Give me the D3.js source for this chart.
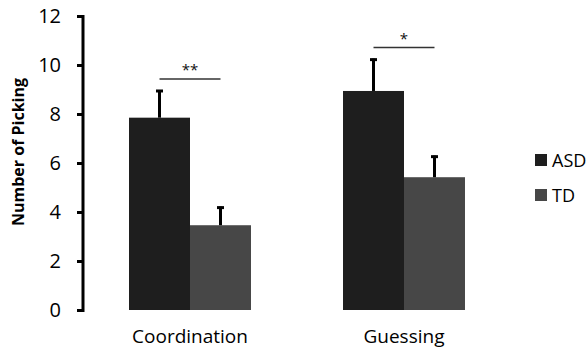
<!DOCTYPE html>
<html>
<head>
<meta charset="utf-8">
<script src="https://cdn.jsdelivr.net/npm/d3@7"></script>
<style>
  html, body { margin: 0; padding: 0; background: #fff; }
  svg { display: block; font-family: "Open Sans", sans-serif; }
</style>
</head>
<body>
<svg id="chart" width="586" height="351"></svg>
<script>
// Picking counts per task, by group (mean and standard error)
const categories = ["Coordination", "Guessing"];
const groups = ["ASD", "TD"];
const asdMeans = [7.85, 8.94];
const tdMeans = [3.46, 5.42];
const asdErrors = [1.13, 1.32];
const tdErrors = [0.76, 0.88];
const yTicks = [0, 2, 4, 6, 8, 10, 12];
const sigLabels = ["**", "*"];
const sigLevels = [9.43, 10.71];

const colors = { ASD: "#1e1e1e", TD: "#474747" };

const svg = d3.select("#chart");

const y = d3.scaleLinear().domain([0, 12]).range([310, 16]);
const x = d3.scaleBand().domain(categories).range([83, 511])
  .paddingInner(0.43).paddingOuter(0.215);
const xSub = d3.scaleBand().domain(groups).range([0, x.bandwidth()]);

const rows = categories.map((c, i) => ({
  category: c,
  bars: [
    { group: "ASD", value: asdMeans[i], err: asdErrors[i] },
    { group: "TD", value: tdMeans[i], err: tdErrors[i] }
  ],
  sig: sigLabels[i],
  sigLevel: sigLevels[i]
}));

// Bars
const g = svg.selectAll("g.cat").data(rows).join("g")
  .attr("class", "cat")
  .attr("transform", d => `translate(${x(d.category)},0)`);

g.selectAll("rect").data(d => d.bars).join("rect")
  .attr("x", d => xSub(d.group))
  .attr("width", xSub.bandwidth())
  .attr("y", d => y(d.value))
  .attr("height", d => y(0) - y(d.value))
  .attr("fill", d => colors[d.group]);

// Error bars (upper only)
const eb = g.selectAll("g.err").data(d => d.bars).join("g").attr("class", "err");
eb.append("line")
  .attr("x1", d => xSub(d.group) + xSub.bandwidth() / 2)
  .attr("x2", d => xSub(d.group) + xSub.bandwidth() / 2)
  .attr("y1", d => y(d.value))
  .attr("y2", d => y(d.value + d.err))
  .attr("stroke", "#000").attr("stroke-width", 3);
eb.append("line")
  .attr("x1", d => xSub(d.group) + xSub.bandwidth() / 2 - 3.5)
  .attr("x2", d => xSub(d.group) + xSub.bandwidth() / 2 + 3.5)
  .attr("y1", d => y(d.value + d.err) + 1)
  .attr("y2", d => y(d.value + d.err) + 1)
  .attr("stroke", "#000").attr("stroke-width", 3);

// Significance markers
g.append("line")
  .attr("x1", xSub("ASD") + xSub.bandwidth() / 2)
  .attr("x2", xSub("TD") + xSub.bandwidth() / 2)
  .attr("y1", d => y(d.sigLevel))
  .attr("y2", d => y(d.sigLevel))
  .attr("stroke", "#333").attr("stroke-width", 1.5);
g.append("text")
  .attr("x", x.bandwidth() / 2)
  .attr("y", d => y(d.sigLevel) - 4)
  .attr("text-anchor", "middle")
  .attr("font-size", 15)
  .attr("fill", "#111")
  .text(d => d.sig);

// Y axis
const yAxis = svg.append("g")
  .attr("transform", "translate(83,0)")
  .call(d3.axisLeft(y).tickValues(yTicks).tickSize(6).tickPadding(16).tickFormat(d3.format("d")));
yAxis.select(".domain").attr("d", "M-6,16.5H0V310.5H-6").attr("stroke", "#000").attr("stroke-width", 3).attr("fill", "none");
yAxis.selectAll(".tick line").attr("stroke", "#000").attr("stroke-width", 3);
yAxis.selectAll(".tick text").attr("font-size", 20).attr("fill", "#000")
  .attr("font-family", "'Open Sans', sans-serif");

svg.append("text")
  .attr("transform", "translate(24,152) rotate(-90)")
  .attr("text-anchor", "middle")
  .attr("font-size", 16)
  .attr("font-weight", "bold")
  .attr("fill", "#000")
  .text("Number of Picking");

// Category labels
svg.selectAll("text.cat-label").data(categories).join("text")
  .attr("class", "cat-label")
  .attr("x", d => x(d) + x.bandwidth() / 2)
  .attr("y", 343)
  .attr("text-anchor", "middle")
  .attr("font-size", 19)
  .attr("fill", "#000")
  .text(d => d);

// Legend
const leg = svg.selectAll("g.leg").data(groups).join("g")
  .attr("class", "leg")
  .attr("transform", (d, i) => `translate(535,${154 + i * 35})`);
leg.append("rect").attr("width", 12).attr("height", 12).attr("fill", d => colors[d]);
leg.append("text").attr("x", 17).attr("y", 12.5)
  .attr("font-size", 18).attr("fill", "#000").text(d => d);
</script>
</body>
</html>
